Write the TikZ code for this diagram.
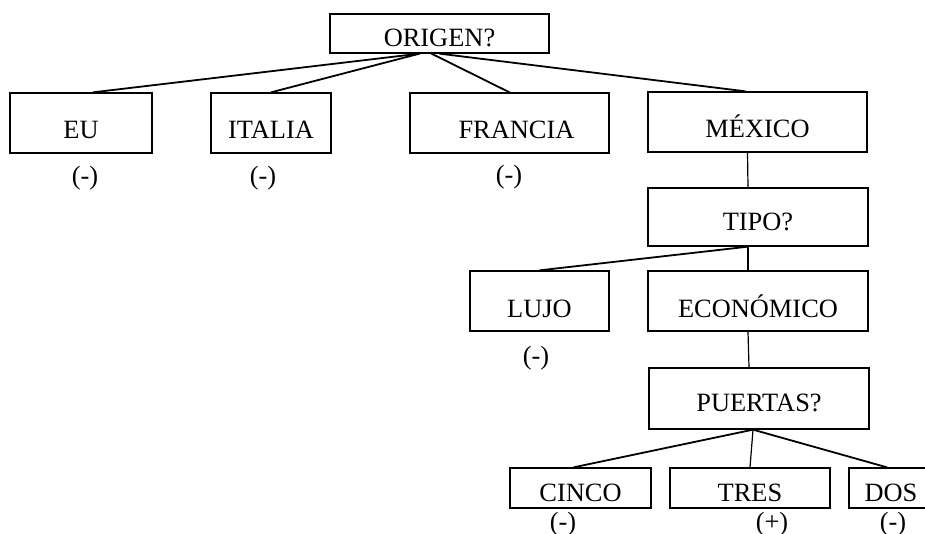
\documentclass[tikz,border=0pt]{standalone}
\usepackage{fontspec}
\setmainfont{Liberation Serif}
\tikzset{
  box/.style={draw, line width=0.65pt, inner sep=0pt, text height=13pt, text depth=0pt,
    font=\fontsize{13.2}{15}\selectfont},
  tallbox/.style={box, minimum height=30pt, text height=16pt},
  sign/.style={inner sep=0pt, font=\fontsize{13.2}{15}\selectfont},
  branch/.style={line width=0.9pt},
  stem/.style={line width=0.6pt}
}
\begin{document}
\begin{tikzpicture}[x=0.5pt, y=-0.5pt]
    \useasboundingbox (0,0) rectangle (925,534);

    % the question boxes and the answers
    \node[box, minimum width=109.5pt, minimum height=19.5pt] (origen) at (439.5,33.5) {ORIGEN?};
    \node[tallbox, minimum width=71pt] (eu) at (81,123) {EU};
    \node[tallbox, minimum width=60pt] (italia) at (271,123) {ITALIA};
    \node[tallbox, minimum width=99.5pt] (francia) at (509.5,123) {\hspace{7pt}FRANCIA};
    \node[tallbox, minimum width=109.5pt] (mexico) at (757.5,122) {MÉXICO\hspace{9pt}};
    %
    \node[box, minimum width=110pt, minimum height=29pt] (tipo) at (758,217) {TIPO?};
    \node[tallbox, minimum width=69.5pt] (lujo) at (539.5,301) {LUJO};
    \node[tallbox, minimum width=110pt] (economico) at (758,301) {ECONÓMICO\hspace{10pt}};
    %
    \node[box, minimum width=110pt, minimum height=30.5pt] (puertas) at (759,398.5) {PUERTAS?};
    \node[box, minimum width=70.5pt, minimum height=20pt] (cinco) at (580.5,488) {CINCO};
    \node[box, minimum width=80pt, minimum height=20pt] (tres) at (750,488) {TRES};
    \node[box, minimum width=42pt, minimum height=20pt] (dos) at (891,488) {DOS};

    % the signs under the leaves
    \node[sign] (eusign) at (85,178) {(-)};
    \node[sign] (italiasign) at (263,178) {(-)};
    \node[sign] (franciasign) at (509,177) {(-)};
    \node[sign] (lujosign) at (536,358) {(-)};
    \node[sign] (cincosign) at (563,524) {(-)};
    \node[sign] (tressign) at (772,524) {(+)};
    \node[sign] (dossign) at (893,524) {(-)};

    % draw the lines
    \draw[branch] ([xshift=-10pt]origen.south) -- ([xshift=6pt]eu.north);
    \draw[branch] ([xshift=-10pt]origen.south) -- (italia.north);
    \draw[branch] ([xshift=-4pt]origen.south) -- (francia.north);
    \draw[branch] (origen.south) -- ([xshift=-6pt]mexico.north);
    \draw[stem] ([xshift=-5pt]mexico.south) -- ([xshift=-5pt]tipo.north);
    %
    \draw[branch] ([xshift=-5pt]tipo.south) -- (lujo.north);
    \draw[stem] ([xshift=-5pt]tipo.south) -- ([xshift=-5pt]economico.north);
    \draw[stem] ([xshift=-5pt]economico.south) -- ([xshift=-5pt]puertas.north);
    %
    \draw[branch] ([xshift=-3pt]puertas.south) -- ([xshift=-3.5pt]cinco.north);
    \draw[stem] ([xshift=-3pt]puertas.south) -- (tres.north);
    \draw[branch] ([xshift=-3pt]puertas.south) -- ([xshift=-2pt]dos.north);
\end{tikzpicture}
\end{document}
